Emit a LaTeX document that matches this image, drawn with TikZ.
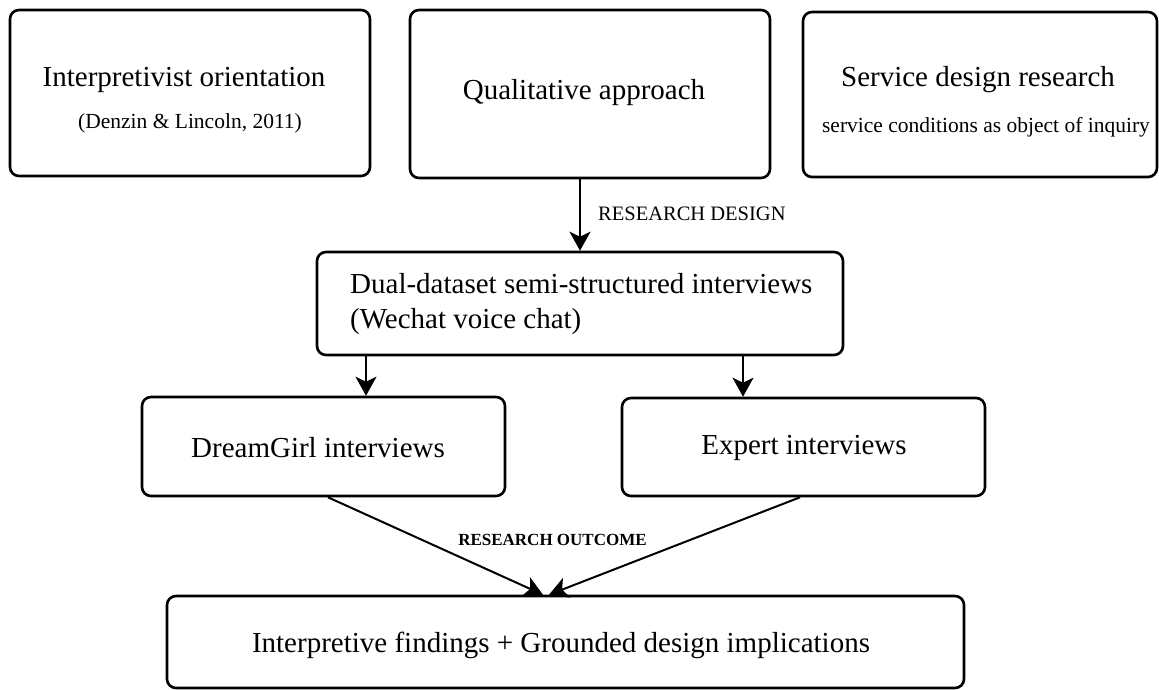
\documentclass[tikz,border=0pt]{standalone}
\usepackage{fontspec}
\setmainfont{Liberation Serif}
\usetikzlibrary{arrows.meta}
\begin{document}
\begin{tikzpicture}[x=1pt,y=-1pt,
  box/.style={draw=black, line width=2.6pt, rounded corners=9pt, inner sep=0pt},
  txt/.style={inner sep=0pt, anchor=base, font=\fontsize{29}{34}\selectfont},
  subtxt/.style={inner sep=0pt, anchor=base, font=\fontsize{21.5}{26}\selectfont},
  lbl/.style={inner sep=0pt, font=\fontsize{20.5}{24}\selectfont},
  arr/.style={line width=2pt, -{Stealth[length=19pt,width=21pt,inset=5pt]}}]
\useasboundingbox (0,0) rectangle (1159,690);

% frame boxes
\node[box, minimum width=360pt, minimum height=166pt] (b1) at (190,93) {};
\node[box, minimum width=360pt, minimum height=168pt] (b2) at (590,94) {};
\node[box, minimum width=354pt, minimum height=165pt] (b3) at (980,94.5) {};
\node[box, minimum width=526pt, minimum height=103pt] (b4) at (580,303.5) {};
\node[box, minimum width=363pt, minimum height=99pt] (b5) at (323.5,446.5) {};
\node[box, minimum width=363pt, minimum height=98pt] (b6) at (803.5,447) {};
\node[box, minimum width=797pt, minimum height=92pt] (b7) at (565.5,642) {};

% box texts
\node[txt] (t1) at (184,87) {Interpretivist orientation};
\node[subtxt] (s1) at (190,129) {(Denzin \& Lincoln, 2011)};
\node[txt] (t2) at (584,100) {Qualitative approach};
\node[txt] (t3) at (978,87) {Service design research};
\node[subtxt] (s3) at (986,133) {service conditions as object of inquiry};
\node[txt, anchor=base west] (t4a) at (350,293) {Dual-dataset semi-structured interviews};
\node[txt, anchor=base west] (t4b) at (350,328) {(Wechat voice chat)};
\node[txt] (t5) at (318,457) {DreamGirl interviews};
\node[txt] (t6) at (804,454) {Expert interviews};
\node[txt] (t7) at (561,652) {Interpretive findings + Grounded design implications};

% connector positions
\coordinate (p5) at (366,0);
\coordinate (p6) at (743,0);
\coordinate (q5) at (328,0);
\coordinate (q6) at (800,0);
\coordinate (r5) at (543,0);
\coordinate (r6) at (549,0);

% connectors
\draw[arr] (b2.south -| b4.north) -- (b4.north);
\node[lbl, anchor=base west] (ld) at (598,220) {RESEARCH DESIGN};
\draw[arr] (b4.south -| p5) -- (b5.north -| p5);
\draw[arr] (b4.south -| p6) -- (b6.north -| p6);
\draw[arr] (b5.south -| q5) -- (b7.north -| r5);
\draw[arr] (b6.south -| q6) -- (b7.north -| r6);
\node[inner sep=0pt, anchor=base, font=\fontsize{17}{20}\selectfont\bfseries] (lo) at (552.5,545) {RESEARCH OUTCOME};
\end{tikzpicture}
\end{document}
